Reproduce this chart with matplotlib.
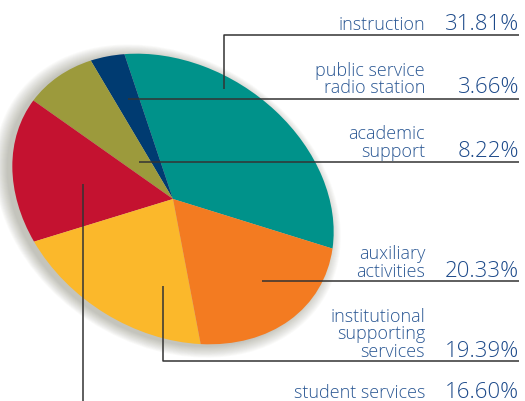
import matplotlib
matplotlib.use('Agg')
import matplotlib.pyplot as plt
from matplotlib.patches import Circle
from matplotlib.transforms import Affine2D

# data (order = counter-clockwise from the teal/orange boundary)
labels = ['instruction', 'public service\nradio station', 'academic\nsupport',
          'student services', 'institutional\nsupporting\nservices', 'auxiliary\nactivities']
shares = [31.81, 3.66, 8.22, 16.60, 19.39, 20.33]
colors = ['#00928a', '#003b71', '#9c9a3c', '#c41230', '#fbb82b', '#f37b21']

# layout in pixel coords (y down)
CX, CY = 173, 200
AX_A, AX_B, TILT = 171, 133, 33
START = 19.9
TEXT_BLUE = '#2b5894'
PCT_BLUE = '#1d4a8a'
LINE_C = '#333333'

# label baselines (last line) and leader lines, same order as labels
baselines = [30, 93, 157, 398, 357, 277]
leaders = [
    [(224, 90), (224, 36), (519, 36)],
    [(128, 100), (519, 100)],
    [(139, 163), (519, 163)],
    [(83, 185), (83, 405)],
    [(163, 287), (163, 362), (519, 362)],
    [(262, 282), (519, 282)],
]

fig = plt.figure(figsize=(5.25, 4.02), dpi=100)
ax = fig.add_axes([0, 0, 1, 1])

# unit circle -> tilted ellipse in pixel space
tilt = Affine2D().scale(AX_A, AX_B).rotate_deg(-TILT).scale(1, -1).translate(CX, CY)

# soft shadow under the pie
for i in range(14):
    r = 1.0 + i * 0.006
    sh = Circle((0, 0), r, color='#5a5a40', alpha=0.028, lw=0)
    sh.set_transform(Affine2D().translate(-0.02, -0.035) + tilt + ax.transData)
    ax.add_patch(sh)

wedges, _ = ax.pie(shares, colors=colors, startangle=START, counterclock=True,
                   radius=1, center=(0, 0), wedgeprops=dict(lw=0))
for w in wedges:
    w.set_transform(tilt + ax.transData)
    w.set_zorder(3)

ax.set_aspect('auto')
ax.set_xlim(0, 525)
ax.set_ylim(402, 0)
ax.axis('off')

# leader lines
for pts in leaders:
    xs = [p[0] for p in pts]
    ys = [p[1] for p in pts]
    ax.plot(xs, ys, color=LINE_C, lw=1.1, zorder=5, solid_capstyle='butt')

# labels and percentages
for lab, val, base in zip(labels, shares, baselines):
    lines = lab.split('\n')
    for k, line in enumerate(reversed(lines)):
        ax.text(425, base - k * 17.5, line, ha='right', va='baseline',
                family='Open Sans', fontweight='light', fontsize=13, color=TEXT_BLUE, zorder=6)
    ax.text(519, base, f'{val:.2f}%', ha='right', va='baseline',
            family='Open Sans', fontweight='light', fontsize=16, color=PCT_BLUE, zorder=6)

fig.savefig('out.png', dpi=100)
